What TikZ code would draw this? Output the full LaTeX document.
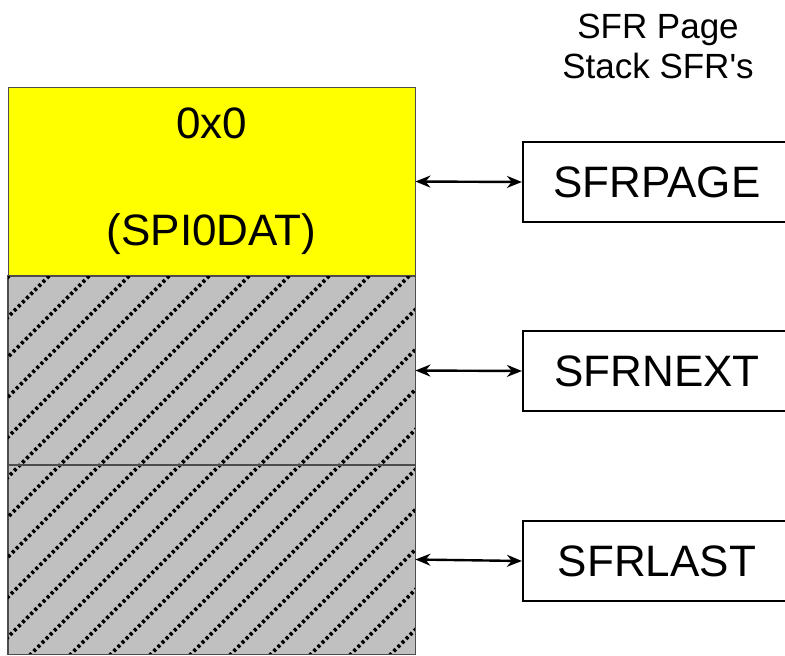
\documentclass[tikz,border=0pt]{standalone}
\usepackage{fontspec}
\setmainfont{Liberation Sans}
\usetikzlibrary{arrows.meta}
\definecolor{memyellow}{RGB}{255,255,0}
\definecolor{memgray}{RGB}{192,192,192}
\begin{document}
\begin{tikzpicture}[x=1pt,y=-1pt]
 \tikzstyle{reg} = [draw=black!70, line width=.8pt, minimum width=407pt, minimum height=189pt, inner sep=0pt]
    \tikzstyle{sfr} = [draw, line width=2.2pt, minimum width=268pt, minimum height=80pt, font=\fontsize{44}{48}\selectfont]
    \tikzstyle{e} = [line width=2.4pt, {Stealth[length=15pt,width=12pt]}-{Stealth[length=15pt,width=12pt]}]
    %%
    \useasboundingbox (0,0) rectangle (785,656);

        % memory column
        \node[reg, fill=memyellow, align=center, font=\fontsize{44}{107}\selectfont] (page0) at (211.5,181.5) {0x0\\(SPI0DAT)};
        \node[reg, fill=memgray] (res1) at (211.5,370.5) {};
        \node[reg, fill=memgray] (res2) at (211.5,559.5) {};
        \begin{scope}
        \clip (res1.north west) rectangle (res2.south east);
        \foreach \k in {-2,...,19}
            \draw[line width=3.6pt, dash pattern=on 3pt off 2.8pt] (325+40*\k-680,680) -- (325+40*\k-270,270);
        \end{scope}
        \draw[draw=black!70, line width=.8pt] (res1.north west) rectangle (res1.south east);
        \draw[draw=black!70, line width=.8pt] (res2.north west) rectangle (res2.south east);

        % stack registers
        \node[align=center, font=\fontsize{35}{40}\selectfont] (title) at (658,46) {SFR Page\\Stack SFR\textquotesingle s};
        \node[sfr] (sfrpage) at (657,182) {SFRPAGE};
        \node[sfr] (sfrnext) at (657,371) {SFRNEXT};
        \node[sfr] (sfrlast) at (657,561) {SFRLAST};
        \draw[e] (page0.east) -- (sfrpage.west);
        \draw[e] (res1.east) -- (sfrnext.west);
        \draw[e] (res2.east) -- (sfrlast.west);

    \end{tikzpicture}
\end{document}
